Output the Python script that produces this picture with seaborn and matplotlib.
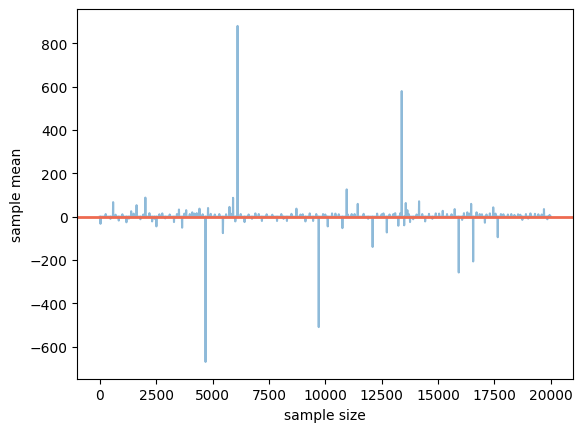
import numpy as np
import pandas as pd
import seaborn as sns
import matplotlib
matplotlib.use("Agg")
import matplotlib.pyplot as plt

# 样本量（每 10 一个）
sample_sizes = list(range(0, 20001, 10))

# 图上看得出的偏离点：样本量 -> 样本均值（其余点都被真实均值那条线盖住，取 0）
spike_sizes = [
    30, 590, 840, 1180, 1390, 1630, 2020, 2320, 2510, 2770,
    3290, 3510, 3650, 3830, 4100, 4420, 4690, 4800,
    5460, 5750, 5910, 6010, 6110, 6420, 6900, 7190, 7860, 8300,
    8720, 9120, 9310, 9460, 9710, 9900, 10110, 10300,
    10760, 10950, 11170, 11440, 12100, 12580, 12730, 13020, 13240, 13320,
    13390, 13500, 13570, 13640, 13760, 14160, 14430, 14900, 15210,
    15740, 15920, 16070, 16300, 16470, 16560, 16710, 17080, 17300, 17450,
    17650, 17790, 18390, 18740, 19100, 19700, 19850,
]
spike_means = [
    -33, 67, -18, -26, 25, 53, 88, -22, -45, 15,
    -25, 33, -51, 30, 20, 37, -671, 40,
    -76, 45, 87, -22, 881, -25, 15, -20, -20, -20,
    37, -22, 15, -20, -510, 12, -45, 15,
    -53, 126, 12, 59, -140, 15, -73, 12, -42, 15,
    580, -40, 63, 30, -25, 71, -22, 15, 27,
    35, -258, -15, 20, 59, -207, 20, -28, 15, 43,
    -95, 12, 8, -15, 15, 35, -12,
]

# 紧贴横线的小抖动
small_sizes = [
    260, 470, 700, 1000, 1290, 1500, 1800, 1930, 2200, 2420, 2640, 2900,
    3100, 3420, 3750, 3990, 4200, 4300, 4560, 4920, 5100, 5300, 5600, 5830,
    6250, 6600, 6750, 7050, 7400, 7650, 8050, 8150, 8500, 8900, 9000, 9600,
    10000, 10450, 10600, 11000, 11300, 11700, 11900, 12300, 12500, 12850,
    13100, 13700, 13900, 14050, 14300, 14600, 14750, 15050, 15400, 15600,
    16150, 16400, 16850, 16950, 17150, 17550, 17900, 18100, 18250, 18550,
    18650, 18900, 19000, 19300, 19450, 19600, 19950,
]
small_means = [
    12, -10, 9, 11, -9, 14, -12, 10, 16, -10, 11, -8,
    10, 12, 14, 12, 14, 16, 11, 13, 10, 12, 11, 13,
    12, 10, -10, 12, 11, 9, 12, -10, 13, 10, 11, 12,
    10, 14, 11, 10, 12, 13, -10, 14, 11, 10,
    16, 12, -12, 10, 12, 13, -10, 14, 12, 11,
    16, 14, 12, 11, 10, 14, 11, 10, 12, 11,
    9, 12, -9, 13, 11, 10, 8,
]

# 真实均值
true_mean = 0

means = pd.Series(0.0, index=sample_sizes)
means.loc[small_sizes] = small_means
means.loc[spike_sizes] = spike_means

df = pd.DataFrame({"sample size": means.index, "sample mean": means.values})

fig, ax = plt.subplots(figsize=(6.4, 4.8), dpi=100)

sns.lineplot(data=df, x="sample size", y="sample mean", ax=ax, alpha=0.5)
ax.axhline(true_mean, color="#ee6a50", linewidth=2)

plt.savefig("out.png", dpi=100, bbox_inches="tight")
